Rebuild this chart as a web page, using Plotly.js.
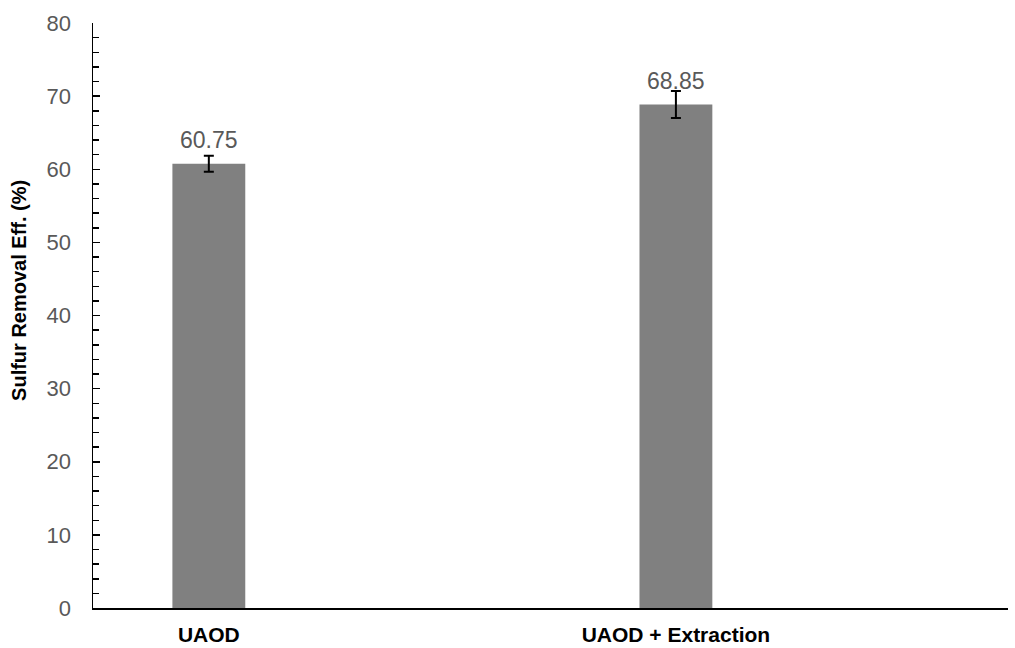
<!DOCTYPE html>
<html>
<head>
<meta charset="utf-8">
<script src="https://cdn.plot.ly/plotly-3.0.1.min.js"></script>
<style>html,body{margin:0;padding:0;background:#fff;}#chart{width:1015px;height:648px;}</style>
</head>
<body>
<div id="chart"></div>
<script>
const categories = ["UAOD", "UAOD + Extraction"];
const removalEff = [60.75, 68.85];
const errorVals = [1.1, 1.85];
const valueLabels = ["60.75", "68.85"];
const yTickVals = [0, 10, 20, 30, 40, 50, 60, 70, 80];

const trace = {
  type: "bar",
  x: categories,
  y: removalEff,
  width: 0.156,
  marker: {color: "#808080", line: {width: 0}},
  error_y: {type: "data", array: errorVals, visible: true, color: "#000000", thickness: 2, width: 5},
  hoverinfo: "skip"
};

const annotations = categories.map((c, i) => ({
  x: c, y: removalEff[i], xref: "x", yref: "y",
  text: valueLabels[i], showarrow: false,
  yanchor: "bottom", yshift: 9,
  font: {family: "Liberation Sans, Arial, sans-serif", size: 23, color: "#595959"}
}));
annotations.push({
  xref: "paper", yref: "paper", x: 0, y: 0.542,
  xanchor: "center", yanchor: "middle", xshift: -74,
  text: "<b>Sulfur Removal Eff. (%)</b>", textangle: -90, showarrow: false,
  font: {family: "Liberation Sans, Arial, sans-serif", size: 20, color: "#000000"}
});

const layout = {
  width: 1015, height: 648,
  margin: {l: 93, r: 7, t: 23, b: 40, pad: 0},
  paper_bgcolor: "#ffffff", plot_bgcolor: "#ffffff",
  showlegend: false,
  xaxis: {
    type: "category",
    range: [-0.248, 1.711],
    showgrid: false, zeroline: false,
    showline: true, linecolor: "#000000", linewidth: 1.5,
    ticks: "", ticklabelstandoff: 7,
    tickfont: {family: "Liberation Sans, Arial, sans-serif", size: 21, color: "#000000", weight: "bold"},
    fixedrange: true
  },
  yaxis: {
    range: [0, 80],
    tickvals: yTickVals,
    showgrid: false, zeroline: false,
    showline: true, linecolor: "#000000", linewidth: 1.5,
    ticks: "inside", ticklen: 7, tickwidth: 1.5, tickcolor: "#000000",
    minor: {dtick: 2, ticks: "inside", ticklen: 6, tickwidth: 1.5, tickcolor: "#000000", showgrid: false},
    ticklabelstandoff: 16,
    tickfont: {family: "Liberation Sans, Arial, sans-serif", size: 22, color: "#595959"},
    fixedrange: true
  },
  annotations: annotations
};

Plotly.newPlot("chart", [trace], layout, {displayModeBar: false, staticPlot: true});
</script>
</body>
</html>
